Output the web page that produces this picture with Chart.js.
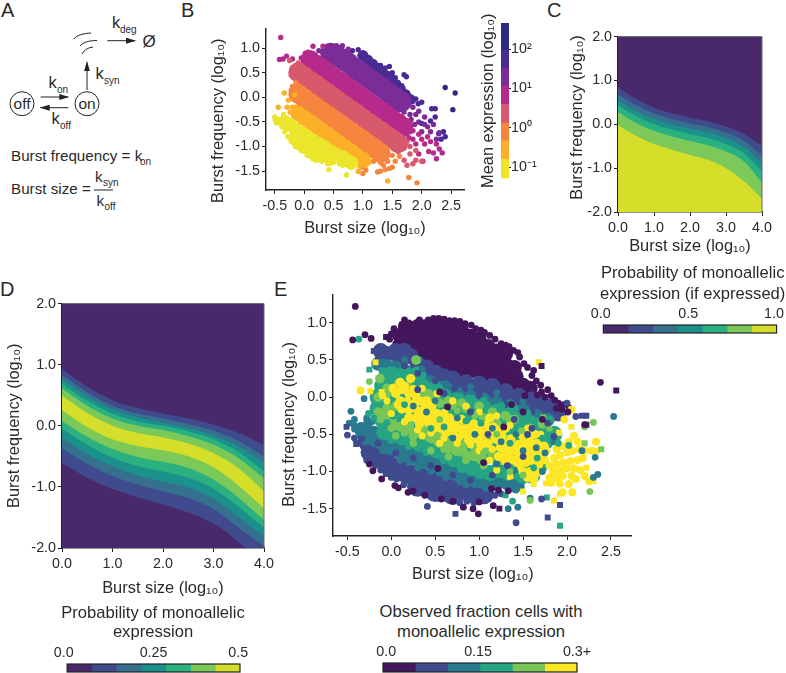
<!DOCTYPE html>
<html><head><meta charset="utf-8">
<script src="https://cdn.jsdelivr.net/npm/chart.js@4"></script>
<style>
html,body{margin:0;padding:0;background:#fff;overflow:hidden;width:786px;height:673px}
canvas{position:absolute}
.t{position:absolute;font-family:"Liberation Sans",Arial,sans-serif;color:#2a2a2a;white-space:nowrap;line-height:1}
svg{position:absolute;left:0;top:0}
svg text{font-family:"Liberation Sans",Arial,sans-serif;fill:#2a2a2a}
</style></head><body>
<svg width="210" height="230">
<defs><marker id="ah" markerWidth="10" markerHeight="7" refX="9" refY="3" orient="auto"><path d="M0,0L10,3L0,6z" fill="#222"/></marker></defs>
<circle cx="22" cy="103.7" r="12" fill="none" stroke="#222"/><circle cx="87" cy="103.7" r="12" fill="none" stroke="#222"/>
<text x="22" y="109" font-size="15.5" text-anchor="middle">off</text><text x="87" y="109" font-size="15.5" text-anchor="middle">on</text>
<line x1="40.7" y1="97" x2="68.3" y2="97" stroke="#222" marker-end="url(#ah)"/>
<line x1="68.3" y1="107.7" x2="40.7" y2="107.7" stroke="#222" marker-end="url(#ah)"/>
<line x1="87" y1="90" x2="87" y2="62.3" stroke="#222" marker-end="url(#ah)"/>
<line x1="107.3" y1="40.7" x2="135" y2="40.7" stroke="#222" marker-end="url(#ah)"/>
<path d="M74,39C77,35 83,33.5 91,33M80,46C83,42 90,40.5 97,40.5M82,54C84,50 88,47.5 93,47" fill="none" stroke="#222"/>
<text x="149" y="47" font-size="17" text-anchor="middle">Ø</text>
<text x="112" y="28" font-size="16.5">k</text><text x="120" y="33" font-size="10">deg</text>
<text x="48.5" y="88" font-size="16.5">k</text><text x="57" y="93" font-size="10">on</text>
<text x="51.5" y="124" font-size="16.5">k</text><text x="60" y="129" font-size="10">off</text>
<text x="95.5" y="79" font-size="16.5">k</text><text x="104" y="84" font-size="10">syn</text>
<text x="11" y="161" font-size="15.2">Burst frequency = k</text><text x="140" y="165" font-size="10">on</text>
<text x="11" y="194" font-size="15.2">Burst size =</text>
<line x1="94" y1="190" x2="113" y2="190" stroke="#222"/>
<text x="95" y="182" font-size="15.2">k</text><text x="103" y="186" font-size="10">syn</text>
<text x="96.5" y="206" font-size="15.2">k</text><text x="104.5" y="210" font-size="10">off</text>
</svg>
<script>
/* ---------- panel labels and colourbar captions ---------- */
const panelLetters = [['A',1,0],['B',181,0],['C',547,0],['D',0,279],['E',274,279]];
const captionsC = ['Probability of monoallelic','expression (if expressed)'];
const captionsD = ['Probability of monoallelic','expression'];
const captionsE = ['Observed fraction cells with','monoallelic expression'];
const titleX = 'Burst size (log\u2081\u2080)';
const titleY = 'Burst frequency (log\u2081\u2080)';
const titleBar = 'Mean expression (log\u2081\u2080)';

/* ---------- panel B: colour bar ---------- */
const plasmaColors = ['#ebe62c','#fcb02a','#f6853f','#d7596c','#b52a8a','#7b2c96','#4a2b94','#2b2a80'];
const barEdges = [-1.28,-0.8,-0.33,0.12,0.6,1.05,1.5,1.98,2.66];
const barTicks = [-1,0,1,2];
const barTickLabels = ['10\u207b\u00b9','10\u2070','10\u00b9','10\u00b2'];

/* ---------- panel B: dense band centres ---------- */
const bYellowCore = [[-.25,-.55],[-.15,-.65],[-.05,-.72],[.05,-.8],[.15,-.88],[.25,-.95],[.35,-1.02],[.45,-1.1],[.55,-1.17],[.65,-1.22],[-.15,-.85],[-.05,-.95],[.05,-1.02],[.2,-1.12],[.3,-1.2],[.45,-1.25],[-.33,-.5],[.72,-1.28],[.8,-1.33]];
const bAmberCore = [[-.1,-.33],[0,-.42],[.1,-.5],[.2,-.59],[.3,-.67],[.4,-.76],[.5,-.85],[.6,-.93],[.7,-1.02],[.8,-1.1],[.9,-1.19],[1,-1.27]];
const bOrangeCore = [[-.1,.07],[0,-.02],[.1,-.11],[.2,-.19],[.3,-.28],[.4,-.36],[.5,-.45],[.6,-.53],[.7,-.62],[.8,-.7],[.9,-.79],[1,-.87],[1.1,-.96],[1.2,-1.04],[1.3,-1.13]];
const bSalmonCore = [[-.1,.51],[0,.43],[.1,.34],[.2,.26],[.3,.17],[.4,.09],[.5,0],[.6,-.09],[.7,-.17],[.8,-.26],[.9,-.34],[1,-.43],[1.1,-.51],[1.2,-.6],[1.3,-.68],[1.4,-.77],[1.5,-.85],[1.6,-.93]];
const bMagentaCore = [[.1,.77],[.2,.68],[.3,.6],[.4,.51],[.5,.43],[.6,.34],[.7,.26],[.8,.17],[.9,.09],[1,0],[1.1,-.09],[1.2,-.17],[1.3,-.26],[1.4,-.34],[1.5,-.43],[1.6,-.51],[1.7,-.6]];
const bPurpleCore = [[.45,.9],[.55,.86],[.65,.78],[.75,.7],[.85,.6],[.95,.52],[1.05,.43],[1.15,.35],[1.25,.26],[1.35,.18],[1.45,.09],[1.55,0],[1.65,-.09]];
const bVioletCore = [[1,.85],[1.08,.76],[1.16,.68],[1.24,.6],[1.32,.52],[1.4,.44],[1.48,.36],[1.56,.26],[1.64,.16],[1.72,.06],[1.8,-.04]];

/* ---------- panel B: loose points at the rim ---------- */
const bYellowEdge = [[-.5,-.4],[-.49,-.47],[-.47,-.52],[-.43,-.45],[-.38,-.6],[-.35,-.35],[-.33,-.7],[-.3,-.65],[-.28,-.8],[-.25,-.8],[-.22,-.9],[-.18,-.88],[-.15,-1],[-.1,-1.02],[-.05,-1.08],[0,-1.1],[.05,-1.18],[.1,-1.2],[.15,-1.25],[.2,-1.28],[.3,-1.3],[.4,-1.35],[.42,-1.47],[.5,-1.32],[.6,-1.35],[.72,-1.58],[.8,-1.42],[-.3,-.45],[-.4,-.5],[.65,-1.38]];
const bAmberEdge = [[-.34,.09],[-.16,.05],[-.27,-.06],[-.29,-.2],[-.44,-.2],[-.15,-.2],[-.24,-.3],[-.12,-.28],[-.2,-.2],[.85,-1.35],[.95,-1.4],[1.05,-1.38],[.92,-1.51],[.75,-1.3],[1.42,-1.7],[1.1,-1.32]];
const bOrangeEdge = [[-.2,.22],[-.22,.15],[-.14,.3],[-.1,.23],[1,-1.55],[1.05,-1.48],[.98,-1.42],[1.25,-1.52],[1.3,-1.5],[1.38,-1.47],[1.45,-1.45],[1.5,-1.42],[1.55,-1.3],[1.42,-1.3],[1.35,-1.38],[1.78,-1.63],[1.92,-1.74],[1.5,-1.18],[1.62,-1.2],[1.3,-1.33],[1.18,-1.3]];
const bSalmonEdge = [[-.2,.6],[-.17,.5],[-.15,.65],[-.1,.7],[-.25,.75],[-.22,.45],[1.7,-1.03],[1.75,-.9],[1.8,-1],[1.9,-1.08],[1.6,-1.1],[1.7,-1.28],[1.75,-1.38],[1.85,-1.35],[1.9,-1.28],[1.55,-1.05],[1.8,-1.15],[2,-1.3]];
const bMagentaEdge = [[-.4,1.22],[-.42,.77],[-.36,.78],[-.3,.84],[-.2,.78],[-.05,.8],[0,.75],[.02,.9],[.07,.92],[.15,1.04],[.32,1.04],[.1,.86],[1.8,-.7],[1.85,-.85],[1.9,-.95],[1.95,-.75],[2,-.85],[2.05,-.95],[2.1,-.8],[2.12,-1.1],[2.2,-1.13],[2.25,-1.25],[2.3,-1.05],[2.35,-1.13],[2.15,-.9],[1.75,-.72],[1.68,-.8],[2.02,-1.3],[1.95,-1.15],[2.25,-.95],[1.85,-.68],[1.78,-.82]];
const bPurpleEdge = [[.25,.95],[.35,.98],[.45,1.02],[.55,1.05],[.65,1.05],[.75,.98],[1.85,-.2],[1.9,-.35],[1.95,-.5],[1.78,-.1],[1.7,-.3],[1.8,-.35],[1.6,-.25],[2.05,-.4],[2.1,-.6],[2,-.7],[2.15,-.7],[1.88,-.55],[2.2,-.55],[2.05,-.55],[1.75,-.5],[2.25,-.85],[2.3,-.72],[1.82,-.45],[1.95,-.28]];
const bVioletEdge = [[.82,.95],[.92,.97],[1.04,.85],[1.1,.8],[1.2,.7],[1.3,.65],[1.38,.6],[1.45,.63],[1.49,.35],[1.55,.4],[1.6,.3],[1.66,.24],[1.7,.46],[1.74,.42],[1.5,.5],[1.4,.45],[1.25,.58],[1.66,.07],[1.75,.02],[1.85,-.08],[1.94,-.13],[2,-.1],[2.17,-.23],[2.23,-.23],[2.23,-.4],[2,-.53],[2.29,-.74],[2.4,-.8],[2.37,-.7],[2.33,-.85],[2.15,-.48],[1.9,-.03],[1.1,.7],[.95,.85],[1.3,.5],[1.6,.12]];
const bNavyEdge = [[2.4,.2],[2.57,.09],[2.53,-.25]];

/* ---------- panel C: contour boundaries, y at each x ---------- */
const contourX = [0,.5,1,1.5,2,2.5,3,3.5,4];
const roofY = [2,2,2,2,2,2,2,2,2];
const cB1 = [.84,.58,.38,.25,.15,.07,-.05,-.22,-.49];
const cB2 = [.68,.44,.25,.12,.02,-.06,-.19,-.38,-.72];
const cB3 = [.55,.3,.12,-.01,-.1,-.19,-.32,-.52,-.9];
const cB4 = [.43,.19,0,-.12,-.22,-.31,-.45,-.66,-1.08];
const cB5 = [.28,.03,-.15,-.28,-.38,-.48,-.62,-.85,-1.33];
const cB6 = [-.02,-.26,-.45,-.58,-.7,-.81,-1,-1.3,-1.7];
const viridisColors = ['#482a6c','#3f4b8c','#35718f','#1b918c','#2bb07f','#7cc95a','#d5df2a'];

/* ---------- panel D: contour boundaries ---------- */
const dB1 = [.92,.64,.42,.29,.2,.12,.02,-.12,-.31];
const dB2 = [.83,.55,.33,.2,.12,.03,-.08,-.25,-.5];
const dB3 = [.76,.48,.27,.14,.05,-.04,-.16,-.34,-.61];
const dB4 = [.69,.41,.2,.07,0,-.09,-.22,-.43,-.75];
const dB5 = [.61,.33,.12,0,-.07,-.17,-.31,-.53,-.86];
const dB6 = [.49,.21,0,-.12,-.19,-.29,-.45,-.7,-1.07];
const dB7 = [.26,-.02,-.22,-.33,-.4,-.5,-.68,-.98,-1.35];
const dB8 = [.08,-.18,-.38,-.51,-.59,-.69,-.88,-1.18,-1.54];
const dB9 = [-.04,-.31,-.52,-.66,-.75,-.85,-1.03,-1.33,-1.67];
const dB10 = [-.2,-.46,-.66,-.81,-.91,-1.01,-1.19,-1.49,-1.81];
const dB11 = [-.37,-.62,-.82,-.96,-1.07,-1.18,-1.36,-1.67,-1.97];
const dB12 = [-.61,-.85,-1.03,-1.17,-1.29,-1.42,-1.6,-1.9,-2.3];

/* ---------- colourbar bins ---------- */
const cBarEdges = [0,.1429,.2857,.4286,.5714,.7143,.8571,1];
const cBarTicks = [-.015,.49,.985];
const dBarEdges = [0,.0714,.1429,.2143,.2857,.3571,.4286,.5];
const dBarTicks = [-.01,.25,.495];
const eBarEdges = [0,.05,.1,.15,.2,.25,.3];
const eBarTicks = [.005,.147,.3];
const eBarLabels = ['0.0','0.15','0.3+'];
const eColors = ['#44165c','#3f4b8e','#2a7a8f','#26a584','#78c558','#fde725'];

/* ---------- panel E: dense areas ---------- */
const eDarkCore = [[.2,.92],[.3,.95],[.4,.95],[.5,.95],[.6,.95],[.7,.92],[.8,.9],[.1,.82],[.2,.82],[.3,.82],[.4,.82],[.5,.82],[.6,.82],[.7,.82],[.8,.82],[.9,.82],[1,.78],[.2,.72],[.3,.7],[.4,.7],[.5,.7],[.6,.7],[.7,.7],[.8,.7],[.9,.7],[1,.7],[1.1,.68],[1.2,.62],[1.3,.58],[.35,.58],[.45,.58],[.55,.58],[.65,.58],[.75,.58],[.85,.58],[.95,.58],[1.05,.58],[1.15,.55],[.5,.46],[.6,.46],[.7,.46],[.8,.46],[.9,.46],[1,.46],[1.1,.46],[1.2,.46],[1.3,.44],[1.4,.4],[.72,.36],[.82,.36],[.92,.36],[1.02,.36],[1.12,.36],[1.22,.36],[1.32,.32],[1.42,.28],[1.1,.28],[1.2,.26],[1.3,.22],[1.4,.18],[1.5,.16],[1.58,.12]];
const eDarkEdge = [[.08,.88],[.12,.98],[.2,1],[.28,.98],[.36,1],[.42,1.04],[.48,1.06],[.54,1.06],[.6,1.05],[.66,1.03],[.78,1.02],[.84,.99],[.96,.92],[1.02,.9],[1.12,.83],[1.18,.78],[1.3,.7],[1.34,.68],[1.44,.6],[1.46,.54],[1.55,.4],[1.62,.36],[1.65,.22],[1.7,.16],[1.78,.1],[1.82,.02],[1.9,-.08],[1.96,-.1],[2.02,-.14],[0,.85],[-.02,.78],[.05,.72],[.1,.7],[.12,.62],[1.6,.08],[1.7,.02]];
const eBlueLowCore = [[-.23,-.74],[-.15,-.79],[-.07,-.85],[0,-.94],[.08,-.97],[.16,-1.01],[.24,-1.05],[.32,-1.08],[.4,-1.11],[.48,-1.14],[.56,-1.17],[.64,-1.2],[.72,-1.22],[.8,-1.24],[.88,-1.27],[.96,-1.3],[.3,-1.2],[.5,-1.27],[.7,-1.31],[1.05,-1.3]];
const eBlueEdge = [[-.42,-.55],[-.37,-.62],[-.32,-.66],[-.28,-.7],[-.25,-.8],[-.18,-.92],[-.12,-.98],[-.06,-1.03],[0,-1.08],[.06,-1.1],[.14,-1.18],[.22,-1.2],[.3,-1.28],[.38,-1.3],[.46,-1.33],[.54,-1.36],[.62,-1.36],[.7,-1.38],[.78,-1.42],[.86,-1.4],[.94,-1.42],[1.02,-1.36],[1.1,-1.35],[1.18,-1.32],[1.25,-1.3],[1.1,-1.25],[1.2,-1.22],[1.3,-1.18]];
const eTealLowCore = [[-.3,-.47],[-.2,-.52],[-.1,-.58],[0,-.65],[.1,-.69],[.2,-.74],[.3,-.79],[.4,-.84],[.5,-.88],[.6,-.93],[.7,-.98],[.8,-1.03],[.9,-1.06],[1,-1.09],[1.1,-1.13],[1.2,-1.1],[1.3,-1.1],[1.4,-1.15]];
const eTealEdge = [[-.48,-.35],[-.42,-.3],[-.38,-.45],[-.35,-.38],[-.28,-.28],[-.22,-.33],[-.18,-.3],[-.42,-.43],[-.36,-.52],[-.3,-.6],[1.48,-1.2],[1.5,-1.12],[1.42,-1.25]];
const eGreenLowCore = [[-.08,-.47],[.02,-.5],[.12,-.54],[.22,-.58],[.32,-.63],[.42,-.67],[.52,-.72],[.62,-.77],[.72,-.84],[.82,-.89],[.92,-.95],[1.02,-.99],[1.12,-1.02],[1.22,-.98]];
const eLimeLowCore = [[-.11,-.25],[-.02,-.3],[.08,-.35],[.18,-.39],[.28,-.43],[.38,-.47],[.46,-.52],[.55,-.58],[.65,-.65],[.75,-.69],[.85,-.72],[.95,-.76],[1.05,-.82]];
const eBlueMidCore = [[-.12,.62],[-.05,.58],[.05,.62],[.15,.62],[.1,.5],[.22,.55],[.3,.45],[.4,.4],[.5,.33],[.6,.28],[.7,.25],[.85,.2],[1,.18],[1.15,.15],[1.3,.08],[1.45,.02],[1.6,-.03],[1.7,-.06],[1.8,-.13],[1.9,-.22],[.8,.1],[.95,.08],[1.1,.05],[1.25,0],[1.4,-.05],[1.55,-.12],[1.68,-.18]];
const eTealMidCore = [[-.15,.45],[-.05,.42],[.05,.4],[.15,.36],[.25,.3],[.35,.25],[.45,.2],[.55,.13],[.65,.1],[.75,.05],[.9,0],[1.05,-.03],[1.2,-.08],[1.35,-.12],[1.5,-.18],[1.65,-.25],[1.78,-.3]];
const eGreenFill = [[0,.3],[.15,.3],[.3,.3],[-.1,.15],[.05,.15],[.2,.15],[.35,.15],[.5,.1],[-.15,0],[0,0],[.15,0],[.3,0],[.45,0],[.6,0],[.75,-.05],[.9,-.08],[-.15,-.15],[0,-.15],[.15,-.15],[.3,-.15],[.45,-.15],[.6,-.15],[.75,-.15],[.9,-.15],[1.05,-.15],[1.2,-.2],[1.35,-.22],[-.1,-.3],[.05,-.3],[.2,-.3],[.35,-.3],[.5,-.3],[.65,-.3],[.8,-.3],[.95,-.3],[1.1,-.3],[1.25,-.3],[1.4,-.3],[1.55,-.32],[1.7,-.38],[.35,-.45],[.5,-.45],[.65,-.45],[.8,-.45],[.95,-.45],[1.1,-.45],[1.25,-.45],[1.4,-.45],[1.55,-.45],[1.7,-.45],[1.85,-.5],[.7,-.6],[.85,-.6],[1,-.6],[1.15,-.6],[1.3,-.6],[1.45,-.6],[1.6,-.6],[1.75,-.6],[1.05,-.75],[1.2,-.75],[1.35,-.75],[1.5,-.75],[1.65,-.75],[1.25,-.9],[1.4,-.9],[1.55,-.9],[1.7,-.9],[1.35,-1.02],[1.5,-1.05],[1.6,-1.05]];
const eGreenMid = [[-.05,.22],[.1,.22],[.2,.2],[.3,.15],[.45,.12],[.6,0],[.75,-.02],[.9,-.05],[1.05,-.05],[.3,.5],[1.25,-.12],[1.4,-.15],[1.55,-.22],[1.7,-.32],[1.8,-.3],[-.1,.35],[.7,-.2],[.95,-.28],[1.2,-.3],[1.45,-.38],[.02,-.25],[.15,-.28],[-.15,-.15]];
const eLimeMid = [[-.13,.25],[-.05,.12],[.08,.18],[.18,.14],[.35,.08],[.42,.05],[.5,.02],[.55,-.08],[.7,-.1],[.85,-.15],[1,-.12],[1.15,-.2],[1.3,-.25],[.28,.5],[-.15,-.2],[-.05,-.15],[.38,-.02],[.46,-.06],[.1,-.4],[.25,-.52],[.4,-.52],[.56,-.56],[.7,-.6],[.82,-.62],[.95,-.68],[1.1,-.7],[1.05,-.28],[1.2,-.35],[1.4,-.3],[1.58,-.42],[1.72,-.36],[-.15,0],[.05,-.12],[.65,-.05],[.8,-.08],[-.05,.05],[1.25,-.85],[1.15,-.78],[1.35,-.3],[.5,-.52]];

/* ---------- panel E: yellow points ---------- */
const eYellow = [[.05,.05],[.12,.1],[.2,.05],[.28,.02],[.1,-.05],[.18,-.06],[.27,-.08],[.35,-.06],[.12,-.16],[.2,-.17],[.3,-.18],[.38,-.16],[.46,-.14],[.2,-.27],[.28,-.28],[.36,-.27],[.45,-.24],[.52,-.22],[.6,-.22],[.32,-.36],[.42,-.34],[.5,-.32],[.58,-.32],[.66,-.28],[.48,-.42],[.56,-.42],[.64,-.38],[.72,-.36],[.8,-.3],[.62,-.48],[.7,-.46],[.78,-.42],[.86,-.4],[.94,-.36],[.76,-.54],[.84,-.5],[.92,-.48],[1,-.44],[1.08,-.38],[.88,-.58],[.96,-.56],[1.04,-.54],[1.12,-.48],[1.2,-.44],[1.02,-.64],[1.1,-.62],[1.18,-.56],[1.26,-.52],[1.3,-.62],[1.36,-.56],[1.24,-.68],[1.22,-.8],[1.3,-.76],[1.38,-.7],[1.44,-.64],[1.5,-.6],[1.58,-.6],[1.66,-.62],[1.74,-.66],[1.3,-.86],[1.38,-.84],[1.46,-.78],[1.54,-.74],[1.62,-.74],[1.7,-.78],[1.45,-.92],[1.53,-.88],[1.6,-.86],[1.68,-.9],[1.5,-1],[1.58,-1],[1.65,-1.02],[1.55,-1.08],[1.62,-1.1],[.02,.12],[.15,.15],[.25,.1],[.1,.2],[.22,.25],[.4,-.05],[1.12,-.28],[1.3,-.42],[1.48,-.5],[1.63,-.5],[.08,-.1],[.25,-.14],[.34,-.22],[.42,-.1],[.55,-.28],[.68,-.4],[.74,-.3],[.82,-.46],[.9,-.42],[1.06,-.5],[1.16,-.4],[1.22,-.58],[1.34,-.68],[1.42,-.72],[1.5,-.68],[1.58,-.66],[1.66,-.7],[1.76,-.72],[1.34,-.78],[1.42,-.88],[1.5,-.82],[1.58,-.8],[1.66,-.82],[1.74,-.84]];
const eYellowRight = [[1.88,-.7],[1.95,-.66],[2.02,-.6],[2.08,-.52],[2.12,-.6],[1.85,-.82],[1.92,-.78],[2,-.74],[2.06,-.72],[2.14,-.7],[2.2,-.72],[1.8,-.92],[1.88,-.9],[1.96,-.88],[2.04,-.86],[2.12,-.85],[2.18,-.82],[1.84,-1],[1.92,-.98],[2,-.96],[2.08,-.96],[2.15,-.98],[1.8,-1.08],[1.88,-1.08],[1.95,-1.06],[2.05,-1.06],[2.1,-1.1],[2.2,-1.06],[1.82,-1.15],[1.92,-1.16],[2.02,-1.17],[2.25,-1.13],[1.95,-1.28],[2.06,-1.28],[1.97,-.3],[2.05,-.17],[-.35,.09],[2.33,-.6],[2.28,-.72]];
const eYellowSq = [[-.24,.08],[-.18,.47],[-.11,.07],[1.91,-.48],[2.05,-.4],[1.68,.47],[1.5,-1.27],[1.62,-1.17],[1.76,-1.16],[1.85,-1.39],[2.22,-.95],[2.3,-1.13],[2.34,-.72],[1.6,-1.05],[1.92,-1.3]];

/* ---------- panel E: fine speckle across the colour boundaries ---------- */
const eSpeckTeal = [[-.1,-.72],[.1,-.85],[.3,-.95],[.45,-1],[.62,-1.08],[.78,-1.14],[.95,-1.18],[1.08,-1.22],[.2,-.88],[-.2,-.62],[.55,-1.02],[.85,-1.18],[.15,.5],[.35,.38],[.62,.18],[.9,.14],[1.2,.06],[1.5,-.05]];
const eSpeckBlue = [[-.15,-.62],[.05,-.75],[.25,-.82],[.45,-.92],[.7,-1.05],[.9,-1.12],[1.15,-1.05],[.3,.32],[.5,.22],[.72,.12],[1,.02],[1.3,-.1],[1.6,-.2],[.15,.42]];
const eSpeckGreen = [[0,-.58],[.2,-.66],[.4,-.74],[.6,-.85],[.8,-.97],[1,-1.05],[.1,-.3],[.3,-.38],[.5,-.5],[.7,-.58],[.9,-.68],[1.1,-.75],[-.05,-.35],[.05,-.2],[1.25,-.9]];
const eSpeckLime = [[.05,-.52],[.25,-.62],[.45,-.72],[.65,-.8],[.85,-.85],[1.05,-.92],[0,-.42],[.15,-.48],[.6,-.7]];
const eSpeckYellow = [[-.05,-.05],[0,-.22],[.15,-.33],[.3,-.44],[.45,-.48],[.6,-.55],[.75,-.62],[.9,-.64],[1,-.72],[1.15,-.7],[.55,-.62],[.35,-.52],[-.1,.02],[.35,.12],[.52,.05],[.7,-.05],[.85,-.12],[1,-.2],[1.2,-.25],[1.35,-.38],[1.55,-.42],[1.7,-.5],[1.12,-.85],[1.2,-.98],[1.35,-1.07]];

/* ---------- panel E: scattered points above the yellow ---------- */
const eOverTeal = [[.5,-.05],[.75,-.28],[.95,-.5],[1.15,-.42],[1.25,-.6],[1.42,-.5],[1.5,-.72],[1.65,-.68],[1.75,-.75],[1.85,-.6],[1.72,-1],[1.4,-.98],[1.2,-.9],[.7,-.55],[.4,-.2],[.25,-.12],[2.32,-.81],[2.3,-1.08],[2.35,-1.04],[1.44,-1.48],[1.33,-1.5],[1.58,-1.36],[2.53,-.26],[-.46,-.19],[-.31,-.02],[-.33,-.4],[-.28,-.32],[-.42,-.38],[1.3,-1.2],[1.38,-1.15],[2.17,-.72]];
const eOverGreen = [[.6,-.4],[.85,-.32],[1.02,-.35],[1.35,-.62],[1.45,-.42],[1.62,-.95],[1.72,-.55],[1.9,-.62],[2.02,-.65],[1.36,-.95],[.45,-.42],[.15,-.1],[-.37,.78],[1.38,-1.4],[-.2,-.28],[-.26,-.22],[1.66,-.82],[1.28,-1.05]];
const eOverGreenSq = [[1.92,-1.73],[-.25,.37],[1.77,-1.35],[1.3,-1.32]];
const eOverLime = [[.95,-.25],[1.05,-.75],[1.35,-1],[1.48,-.45],[1.8,-.42],[2.26,-1.27],[2.3,-.34],[2.2,-.4],[1.58,-1.39],[1.5,-1.05],[-.25,.21],[.55,-.3],[.75,-.18],[1.2,-.5]];
const eOverLimeSq = [[2.39,-.7],[2.2,-.62],[1.73,-.27]];
const eOverBlue = [[.9,-.2],[1.1,-.5],[1.55,-.5],[1.4,-.3],[1.32,-.92],[1.6,-.42],[1.78,-.35],[2,-.08],[1.85,-.53],[.6,.05],[.3,.1],[1.42,-1.69],[.41,-1.47],[1.71,-1.37],[-.5,-.51],[-.34,-.56],[-.3,-.76],[-.28,-.85],[1.5,-.8],[2.1,-.26]];
const eOverBlueSq = [[-.51,-.4],[-.4,-.63],[.73,-1.57],[1.78,-1.62],[1.92,-1.45],[2.17,-.25],[2.22,-.25],[-.2,.62],[-.15,.55]];
const eOverDark = [[-.41,1.22],[-.44,.77],[-.3,.84],[-.23,.79],[.03,.92],[.15,1.04],[.32,1.04],[.21,.96],[.72,1.03],[.91,.97],[1.06,.87],[1.25,.72],[1.39,.63],[1.51,.45],[1.6,.29],[1.71,.07],[1.86,-.04],[1.94,-.16],[2.01,-.2],[1.92,-.15],[1.75,0],[2.38,.2],[2.2,-.37],[.53,-.96],[.64,-.13],[.55,.07],[.04,-1.19],[-.11,-1.1],[-.21,-.99],[-.25,-.9],[.08,-1.22],[.19,-1.28],[.25,-1.26],[.38,-1.32],[.57,-1.37],[.7,-1.4],[.82,-1.48],[.93,-1.5],[.99,-1.57],[1,-1.41],[1.16,-1.46],[1.14,-1.23],[1.33,-1.26],[1.22,-1.25],[1.05,-.88],[1.37,-.1],[1.5,-.2],[1.72,-.3],[1.88,-.15],[1.52,.02],[1.66,.03],[1.28,-.4]];
const eOverDarkSq = [[-.06,.81],[.11,.93],[1.71,.42],[2.56,.09],[1.23,-1.5],[2.22,-.37]];

/* ---------- rendering ---------- */
const FONT = '"Liberation Sans", Arial, sans-serif';
const INK = '#2a2a2a';
Chart.defaults.font.family = FONT;
Chart.defaults.color = INK;
Chart.defaults.animation = false;
Chart.defaults.plugins.legend.display = false;
Chart.defaults.plugins.tooltip.enabled = false;

const pts = a => a.map(p => ({x:p[0], y:p[1]}));
const curve = ys => ys.map((y,i) => ({x:contourX[i], y}));

panelLetters.forEach(([s,x,y]) => label(s,x,y,20));
function label(s,x,y,size,center){
  const d = document.createElement('div'); d.className='t'; d.textContent=s;
  d.style.fontSize=size+'px'; d.style.left=x+'px'; d.style.top=y+'px';
  if(center) d.style.transform='translateX(-50%)';
  document.body.appendChild(d);
}
function mount(plot, yW, xH, type, datasets, scales, plugins, pad, extra){
  const pt = pad?pad.t:10, pr = pad?pad.r:20;
  const c = document.createElement('canvas');
  const w = Math.round(yW + plot.r-plot.l + pr), h = Math.round(pt + plot.b-plot.t + xH);
  c.width=w; c.height=h; c.style.width=w+'px'; c.style.height=h+'px';
  c.style.left=(plot.l-yW)+'px'; c.style.top=(plot.t-pt)+'px';
  document.body.appendChild(c);
  const data = {datasets}; if(type==='bar') data.labels=[''];
  return new Chart(c,{type,data,options:Object.assign({responsive:false,maintainAspectRatio:false,
    layout:{padding:{top:pt,right:pr,left:0,bottom:0}},scales,elements:{point:{borderWidth:0}}},extra||{}),plugins:plugins||[]});
}
function valueAxis(pos,min,max,step,boxSize,title,fontSize,padTitle){
  const isY = pos==='left';
  return {type:'linear',position:pos,min,max,
    border:{color:'#222',width:1.4},
    grid:{display:true,drawOnChartArea:false,drawTicks:true,tickLength:4,tickColor:'#222'},
    ticks:{stepSize:step,includeBounds:false,autoSkip:false,maxRotation:0,padding:isY?2:3,color:INK,
      font:{size:fontSize},callback:v=>Number(v).toFixed(1)},
    title:{display:true,text:title,color:INK,font:{size:16.4},padding:padTitle||{top:2,bottom:0}},
    afterFit:s=>{ if(isY) s.width=boxSize; else s.height=boxSize; }};
}
const frame = color => ({id:'frame',afterDatasetsDraw(ch){const a=ch.chartArea,g=ch.ctx;g.save();g.strokeStyle=color;g.lineWidth=1;
  g.beginPath();g.moveTo(a.left,a.top);g.lineTo(a.right,a.top);g.lineTo(a.right,a.bottom);g.stroke();g.restore();}});

/* scatter layers listed bottom first, reversed so the first is painted first */
function layers(list){
  return list.map(([data,color,r,shape]) => ({data:pts(data),backgroundColor:color,pointRadius:r,pointStyle:shape||'circle',showLine:false})).reverse();
}

const P = plasmaColors;
const TICK = 14.3;
mount({l:265.7,t:28,r:464,b:190.3},57,48,'scatter',layers([
  [bVioletCore,P[6],5.5],[bVioletEdge,P[6],2.7],[bNavyEdge,P[7],2.7],
  [bPurpleCore,P[5],10.5],[bPurpleEdge,P[5],2.7],
  [bMagentaCore,P[4],9.5],[bMagentaEdge,P[4],2.7],
  [bSalmonCore,P[3],10],[bSalmonEdge,P[3],2.7],
  [bOrangeCore,P[2],10],[bOrangeEdge,P[2],2.7],
  [bAmberCore,P[1],8],[bAmberEdge,P[1],2.7],
  [bYellowCore,P[0],7],[bYellowEdge,P[0],2.7]
]),{
  x:valueAxis('bottom',-.65,2.72,.5,48,titleX,TICK),
  y:valueAxis('left',-1.885,1.4,.5,57,titleY+'\u00a0\u00a0\u00a0\u00a0\u00a0',TICK,{top:0,bottom:0})
});

mount({l:333.3,t:294,r:631,b:535.7},53,48,'scatter',layers([
  [eDarkCore,eColors[0],7.5],[eDarkEdge,eColors[0],3.4],
  [eBlueMidCore,eColors[1],8],[eBlueLowCore,eColors[1],10.5],[eBlueEdge,eColors[1],3.4],
  [eTealMidCore,eColors[2],7],[eTealLowCore,eColors[2],10],[eTealEdge,eColors[2],3.4],
  [eGreenFill,eColors[3],8.5],
  [eGreenLowCore,eColors[3],8],[eLimeLowCore,eColors[4],7.5],
  [eSpeckTeal,eColors[2],3.4],[eSpeckBlue,eColors[1],3.4],[eSpeckGreen,eColors[3],3.8],[eSpeckLime,eColors[4],3.8],
  [eGreenMid,eColors[3],4],[eLimeMid,eColors[4],4.8],
  [eYellow,eColors[5],4.6],[eYellowRight,eColors[5],4],[eSpeckYellow,eColors[5],3.6],[eYellowSq,eColors[5],4.2,'rect'],
  [eOverTeal,eColors[2],3.4],[eOverGreen,eColors[3],3.4],[eOverGreenSq,eColors[3],4.2,'rect'],
  [eOverLime,eColors[4],3.4],[eOverLimeSq,eColors[4],4.2,'rect'],
  [eOverBlue,eColors[1],3.4],[eOverBlueSq,eColors[1],4.2,'rect'],
  [eOverDark,eColors[0],3.4],[eOverDarkSq,eColors[0],4.2,'rect']
]),{
  x:valueAxis('bottom',-.664,2.728,.5,48,titleX+'\u00a0\u00a0\u00a0\u00a0',TICK),
  y:valueAxis('left',-1.868,1.38,.5,53,titleY+'\u00a0\u00a0\u00a0\u00a0',TICK,{top:0,bottom:0})
});

function contours(plot,yW,xH,bands,titleYText){
  /* bands listed from the top of the picture down */
  const sets = bands.map(([ys,col]) => ({data:curve(ys),backgroundColor:col,borderWidth:0,pointRadius:0,fill:'start',cubicInterpolationMode:'monotone',parsing:false})).reverse();
  mount(plot,yW,xH,'line',sets,{
    x:valueAxis('bottom',0,4,1,xH,titleX,TICK),
    y:valueAxis('left',-2,2,1,yW,titleYText,TICK,{top:0,bottom:0})
  },[frame('#666')]);
}
const V = viridisColors;
contours({l:618,t:35.7,r:762,b:211.3},50,44,[[roofY,V[0]],[cB1,V[1]],[cB2,V[2]],[cB3,V[3]],[cB4,V[4]],[cB5,V[5]],[cB6,V[6]]],'\u00a0\u00a0\u00a0'+titleY);
contours({l:62.3,t:303.3,r:264.3,b:548.3},57,50,[[roofY,V[0]],[dB1,V[1]],[dB2,V[2]],[dB3,V[3]],[dB4,V[4]],[dB5,V[5]],[dB6,V[6]],[dB7,V[5]],[dB8,V[4]],[dB9,V[3]],[dB10,V[2]],[dB11,V[1]],[dB12,V[0]]],titleY);

function hBar(plot,edges,colors,ticks,labels,padR){
  const pr = padR||24;
  const sets = colors.map((col,i)=>({data:[[edges[i],edges[i+1]]],backgroundColor:col,borderWidth:0,grouped:false,barPercentage:1,categoryPercentage:1}));
  return mount(plot,14,1,'bar',sets,{
    x:{type:'linear',position:'top',min:edges[0],max:edges[edges.length-1],border:{display:false},
      grid:{display:false,drawTicks:false},afterBuildTicks:a=>{a.ticks=ticks.map(v=>({value:v}));},
      ticks:{autoSkip:false,maxRotation:0,padding:2,color:INK,font:{size:TICK},callback:(v,i)=>labels[i]},
      afterFit:s=>{s.height=18;}},
    y:{type:'category',display:false,afterFit:s=>{s.width=0;}}
  },[{id:'box',afterDatasetsDraw(ch){const a=ch.chartArea,g=ch.ctx;g.save();g.strokeStyle='#222';g.lineWidth=1.2;g.strokeRect(a.left,a.top,a.right-a.left,a.bottom-a.top);g.restore();}}],{t:20,r:pr},
  {indexAxis:'y',layout:{padding:{top:2,right:pr,left:14,bottom:1}}});
}
hBar({l:602.7,t:325,r:778.3,b:333},cBarEdges,V,cBarTicks,['0.0','0.5','1.0'],7);
hBar({l:65.7,t:664.3,r:240,b:672.3},dBarEdges,V,dBarTicks,['0.0','0.25','0.5']);
hBar({l:383.3,t:662.7,r:577,b:671.7},eBarEdges,eColors,eBarTicks,eBarLabels);

/* vertical colourbar of panel B */
(function(){
  const sets = P.map((col,i)=>({data:[[barEdges[i],barEdges[i+1]]],backgroundColor:col,borderWidth:0,grouped:false,barPercentage:1,categoryPercentage:1}));
  mount({l:500.7,t:23,r:509,b:184},22,3,'bar',sets,{
    x:{type:'category',display:false},
    y:{type:'linear',position:'right',min:barEdges[0],max:barEdges[8],border:{display:false},
      grid:{display:true,drawOnChartArea:false,tickLength:2,tickColor:'#222'},
      afterBuildTicks:a=>{a.ticks=barTicks.map(v=>({value:v}));},
      ticks:{autoSkip:false,padding:0,color:INK,font:{size:TICK},callback:(v,i)=>barTickLabels[i]},
      afterFit:s=>{s.width=30;}},
    y2:{type:'linear',position:'left',min:0,max:1,border:{display:false},grid:{display:false},
      ticks:{display:false},title:{display:true,text:titleBar,color:INK,font:{size:16.4},padding:0},
      afterFit:s=>{s.width=22;}}
  },[],{t:10,r:30},{layout:{padding:{top:10,right:0,left:0,bottom:3}}});
})();

captionsC.forEach((s,i)=>label(s,692.7,265+i*20.5,16.6,true));
captionsD.forEach((s,i)=>label(s,153,604.5+i*19.5,16.6,true));
captionsE.forEach((s,i)=>label(s,481,603.5+i*20,16.6,true));
</script>
</body></html>
